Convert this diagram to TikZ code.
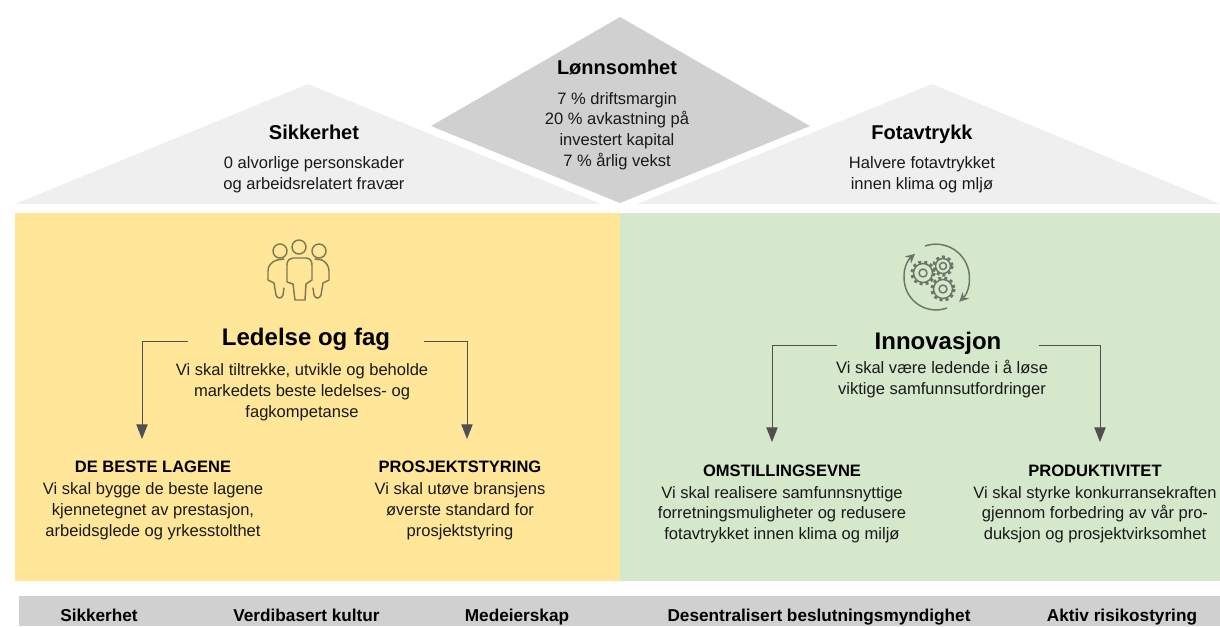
\documentclass[tikz,border=0pt]{standalone}
\usepackage{fontspec}
\setmainfont{Liberation Sans}
\usetikzlibrary{positioning,calc,arrows.meta}

\definecolor{pillaryellow}{HTML}{FFE699}
\definecolor{pillargreen}{HTML}{D5E8CB}
\definecolor{roofgrey}{HTML}{D0D0D0}
\definecolor{rooflight}{HTML}{EFEFEF}
\definecolor{inkgrey}{HTML}{505050}
\definecolor{peopleink}{HTML}{7F7850}
\definecolor{gearink}{HTML}{6C7668}

\tikzset{
  roofhead/.style={font=\fontsize{15}{18}\selectfont\bfseries, inner sep=0pt, align=center, text height=11pt, text depth=3pt},
  bodytext/.style={font=\fontsize{12.4}{15.5}\selectfont, inner sep=0pt, align=center, text=black!90},
  pillarhead/.style={font=\fontsize{18}{22}\selectfont\bfseries, inner ysep=0pt, inner xsep=25pt, align=center, text height=13pt, text depth=6pt},
  subhead/.style={font=\fontsize{12.4}{14}\selectfont\bfseries, inner sep=0pt, align=center, text height=9pt, text depth=1pt},
  basetext/.style={font=\fontsize{12.9}{14}\selectfont\bfseries, inner sep=0pt, anchor=base},
  goalarrow/.style={draw=inkgrey, line width=0.7pt, -{Stealth[length=11pt,width=8.5pt,inset=0pt]}},
  peopleline/.style={draw=peopleink, line width=1.1pt, line join=round, line cap=round},
  gearline/.style={draw=gearink, line width=1.1pt, line join=round},
}

\begin{document}
\begin{tikzpicture}[x=0.75pt, y=-0.75pt]
  \useasboundingbox (0,0) rectangle (1220,626);

  % Roof
  \fill[rooflight] (15,204) -- (308,84) -- (601,204) -- cycle;
  \fill[rooflight] (637,204) -- (932,84) -- (1220,204) -- cycle;
  \fill[roofgrey] (620,17) -- (810,126) -- (620,203) -- (431,126) -- cycle;

  % Pillars and base
  \fill[pillaryellow] (15,213) rectangle (620,581);
  \fill[pillargreen] (620,213) rectangle (1220,581);
  \fill[roofgrey] (19,596) rectangle (1220,626);

  % Roof texts
  \node[roofhead] (profit) at (617,69) {Lønnsomhet};
  \node[bodytext, below=10pt of profit] (profit_txt) {7 \% driftsmargin\\20 \% avkastning på\\investert kapital\\7 \% årlig vekst};
  \node[roofhead] (safety) at (314,134) {Sikkerhet};
  \node[bodytext, below=9.5pt of safety] (safety_txt) {0 alvorlige personskader\\og arbeidsrelatert fravær};
  \node[roofhead] (footprint) at (922,134) {Fotavtrykk};
  \node[bodytext, below=9.5pt of footprint] (footprint_txt) {Halvere fotavtrykket\\innen klima og mljø};

  % Left pillar
  \node[pillarhead] (lead) at (306,341) {Ledelse og fag};
  \node[bodytext, below=7.25pt of lead, xshift=-3pt] (lead_txt) {Vi skal tiltrekke, utvikle og beholde\\markedets beste ledelses- og\\fagkompetanse};
  \node[subhead] (team) at (153,467) {DE BESTE LAGENE};
  \node[bodytext, below=6.5pt of team] (team_txt) {Vi skal bygge de beste lagene\\kjennetegnet av prestasjon,\\arbeidsglede og yrkesstolthet};
  \node[subhead] (project) at (460,467) {PROSJEKTSTYRING};
  \node[bodytext, below=6.5pt of project] (project_txt) {Vi skal utøve bransjens\\øverste standard for\\prosjektstyring};

  % Right pillar
  \node[pillarhead, inner xsep=28pt] (innov) at (938,345) {Innovasjon};
  \node[bodytext, below=1.5pt of innov, xshift=3pt] (innov_txt) {Vi skal være ledende i å løse\\viktige samfunnsutfordringer};
  \node[subhead] (change) at (782,471) {OMSTILLINGSEVNE};
  \node[bodytext, below=6pt of change] (change_txt) {Vi skal realisere samfunnsnyttige\\forretningsmuligheter og redusere\\fotavtrykket innen klima og miljø};
  \node[subhead] (product) at (1095,471) {PRODUKTIVITET};
  \node[bodytext, below=6pt of product] (product_txt) {Vi skal styrke konkurransekraften\\gjennom forbedring av vår pro-\\duksjon og prosjektvirksomhet};

  % Arrows
  \coordinate (team_in) at (142,439);
  \coordinate (project_in) at (467,439);
  \coordinate (change_in) at (772,442);
  \coordinate (product_in) at (1100,442);
  \draw[goalarrow] (lead.west) -| (team_in);
  \draw[goalarrow] (lead.east) -| (project_in);
  \draw[goalarrow] (innov.west) -| (change_in);
  \draw[goalarrow] (innov.east) -| (product_in);

  % Base texts
  \node[basetext] (base_a) at (99,621) {Sikkerhet};
  \node[basetext] (base_b) at (306.5,621) {Verdibasert kultur};
  \node[basetext] (base_c) at (517,621) {Medeierskap};
  \node[basetext] (base_d) at (819,621) {Desentralisert beslutningsmyndighet};
  \node[basetext] (base_e) at (1122,621) {Aktiv risikostyring};

  % People icon
  \begin{scope}[shift={(298,270)}]
    \draw[peopleline] (1,-23) circle (7);
    \draw[peopleline] (-18,-19) circle (7);
    \draw[peopleline] (21,-19) circle (7);
    \draw[peopleline] (-11,12) -- (-11,-5) .. controls (-11,-10) and (-8,-12) .. (-5,-12) -- (8,-12) .. controls (12,-12) and (14,-9) .. (14,-5) -- (14,10) -- (8,14) -- (7,30) -- (-3,30) -- (-5,14) -- cycle;
    \draw[peopleline] (-14,-11) -- (-21,-10) .. controls (-27,-8) and (-30,-4) .. (-30,1) -- (-30,10) -- (-24,13) -- (-22,25) .. controls (-21,29) and (-16,29) .. (-15,25) -- (-14,18);
    \draw[peopleline] (17,-11) -- (24,-10) .. controls (28,-8) and (31,-4) .. (31,1) -- (31,10) -- (25,13) -- (23,25) .. controls (22,29) and (17,29) .. (16,25) -- (15,18);
  \end{scope}

  % Gears icon
  \begin{scope}[shift={(936,278)}]
    \draw[gearline, -{Stealth[length=7pt,width=7pt]}] (11,30) arc (70:229:32);
    \draw[gearline, -{Stealth[length=7pt,width=7pt]}] (-11,-32) arc (251:406:33.5);
    \draw[gearline, line width=2.4pt, dash pattern=on 2.2pt off 2.2pt] (-13,-5) circle (11);
    \draw[gearline] (-13,-5) circle (9.5) (-13,-5) circle (4);
    \draw[gearline, line width=2.4pt, dash pattern=on 2.2pt off 2.2pt] (7,-12) circle (9);
    \draw[gearline] (7,-12) circle (7.5) (7,-12) circle (3.5);
    \draw[gearline, line width=2.4pt, dash pattern=on 2.2pt off 2.2pt] (7,11) circle (11);
    \draw[gearline] (7,11) circle (9.5) (7,11) circle (4);
  \end{scope}
\end{tikzpicture}
\end{document}
